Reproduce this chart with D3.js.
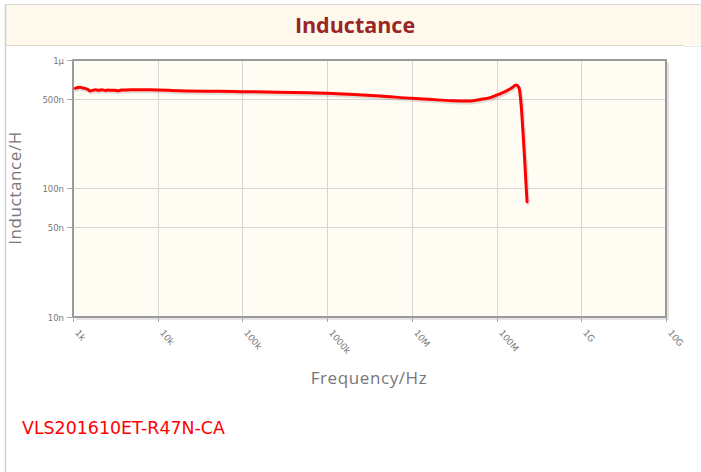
<!DOCTYPE html>
<html><head><meta charset="utf-8">
<script src="https://cdn.jsdelivr.net/npm/d3@7"></script>
<style>body{margin:0;background:#fff;}svg{display:block;}</style>
</head><body>
<script>
// Data
const freqHz = [1.06e3,1.15e3,1.21e3,1.3e3,1.39e3,1.5e3,1.59e3,1.7e3,1.82e3,2.0e3,2.2e3,2.4e3,2.6e3,2.8e3,3.1e3,3.4e3,3.7e3,4.1e3,4.7e3,6e3,8.1e3,1.8e4,1e5,1e6,4.2e6,1e7,1.6e7,3e7,4.9e7,6.4e7,8.4e7,1.01e8,1.26e8,1.52e8,1.7e8,1.84e8,1.95e8,2.06e8,2.14e8,2.23e8,2.29e8];
const inductanceNH = [602,610,613,606,600,590,574,580,587,582,586,580,584,581,582,576,583,584,587,586,587,577,567,551,525,503,494,482,480,493,509,534,567,609,639,609,447,261,173,106,79];
const xTickValues = [1e3,1e4,1e5,1e6,1e7,1e8,1e9,1e10];
const xTickLabels = ["1k","10k","100k","1000k","10M","100M","1G","10G"];
const yTickValues = [1000,500,100,50,10];
const yTickLabels = ["1\u00b5","500n","100n","50n","10n"];
const chartTitle = "Inductance";
const xTitle = "Frequency/Hz";
const yTitle = "Inductance/H";
const partName = "VLS201610ET-R47N-CA";

const W = 701, H = 472;
const svg = d3.select("body").append("svg").attr("width", W).attr("height", H);

// outer panel
svg.append("rect").attr("x",0).attr("y",0).attr("width",W).attr("height",H).attr("fill","#fff");
svg.append("rect").attr("x",6).attr("y",5).attr("width",W-6).attr("height",40).attr("fill","#fef9ec");
svg.append("line").attr("x1",5.5).attr("x2",5.5).attr("y1",4).attr("y2",H).attr("stroke","#d0d0d0").attr("stroke-width",1.5);
svg.append("line").attr("x1",5).attr("x2",W).attr("y1",4.5).attr("y2",4.5).attr("stroke","#d8d8d8").attr("stroke-width",1);
svg.append("line").attr("x1",6).attr("x2",684).attr("y1",45.5).attr("y2",45.5).attr("stroke","#ddd6c6").attr("stroke-width",1);
svg.append("line").attr("x1",684).attr("x2",W).attr("y1",46.5).attr("y2",46.5).attr("stroke","#e6e6e6").attr("stroke-width",1);

svg.append("text").attr("x",355).attr("y",33).attr("text-anchor","middle")
  .attr("font-family","'Open Sans', sans-serif").attr("font-weight","bold").attr("font-size",21.5)
  .attr("fill","#9b2424").text(chartTitle);

// plot
const pL = 73, pR = 666, pT = 60, pB = 317;
const x = d3.scaleLog().domain([1e3,1e10]).range([pL,pR]);
const y = d3.scaleLog().domain([10,1000]).range([pB,pT]);

// shadow of plot
svg.append("rect").attr("x",pL+3).attr("y",pT+3).attr("width",pR-pL).attr("height",pB-pT).attr("fill","#e4e4e4");
svg.append("rect").attr("x",pL).attr("y",pT).attr("width",pR-pL).attr("height",pB-pT).attr("fill","#fefcf3");

const g = svg.append("g");
// grid
g.selectAll(".vg").data(xTickValues.slice(1,-1)).enter().append("line")
  .attr("x1",d=>Math.round(x(d))+0.5).attr("x2",d=>Math.round(x(d))+0.5).attr("y1",pT).attr("y2",pB)
  .attr("stroke","#d6d6d6").attr("stroke-width",1);
g.selectAll(".hg").data(yTickValues.slice(1,-1)).enter().append("line")
  .attr("y1",d=>Math.round(y(d))+0.5).attr("y2",d=>Math.round(y(d))+0.5).attr("x1",pL).attr("x2",pR)
  .attr("stroke","#d6d6d6").attr("stroke-width",1);

// border
svg.append("rect").attr("x",pL).attr("y",pT).attr("width",pR-pL).attr("height",pB-pT)
  .attr("fill","none").attr("stroke","#9a9a9a").attr("stroke-width",2);

// y ticks
const yt = svg.append("g");
yTickValues.forEach((v,i)=>{
  const yy = Math.round(y(v))+0.5;
  yt.append("line").attr("x1",67).attr("x2",pL).attr("y1",yy).attr("y2",yy).attr("stroke","#aaa");
  yt.append("text").attr("x",64).attr("y",yy+3).attr("text-anchor","end")
    .attr("font-family","'DejaVu Sans', sans-serif").attr("font-size",8.5).attr("fill","#777").text(yTickLabels[i]);
});
// x ticks
const xt = svg.append("g");
xTickValues.forEach((v,i)=>{
  const xx = Math.round(x(v))+0.5;
  xt.append("line").attr("x1",xx).attr("x2",xx).attr("y1",pB).attr("y2",pB+5).attr("stroke","#aaa");
  xt.append("text").attr("transform",`translate(${xx+1},${pB+16}) rotate(50)`)
    .attr("font-family","'DejaVu Sans', sans-serif").attr("font-size",9).attr("fill","#777").text(xTickLabels[i]);
});

// axis titles
svg.append("text").attr("x",369).attr("y",384).attr("text-anchor","middle")
  .attr("font-family","'Open Sans', sans-serif").attr("font-size",17).attr("letter-spacing",0.6).attr("fill","#777").text(xTitle);
svg.append("text").attr("transform","translate(21,188) rotate(-90)").attr("text-anchor","middle")
  .attr("font-family","'Open Sans', sans-serif").attr("font-size",17).attr("letter-spacing",0.6).attr("fill","#777").text(yTitle);

// curve
const pts = freqHz.map((f,i)=>[f,inductanceNH[i]]);
const line = d3.line().x(d=>x(d[0])).y(d=>y(d[1])).curve(d3.curveMonotoneX);
svg.append("path").attr("d",line(pts)).attr("fill","none").attr("stroke","rgba(0,0,0,0.12)")
  .attr("stroke-width",4).attr("transform","translate(1,1.5)").attr("stroke-linejoin","round").attr("stroke-linecap","round");
svg.append("path").attr("d",line(pts)).attr("fill","none").attr("stroke","#ff0000")
  .attr("stroke-width",3).attr("stroke-linejoin","round").attr("stroke-linecap","round");

// part name
svg.append("text").attr("x",22).attr("y",434)
  .attr("font-family","'DejaVu Sans', sans-serif").attr("font-size",17.4).attr("fill","#ff0000").text(partName);
</script>
</body></html>
